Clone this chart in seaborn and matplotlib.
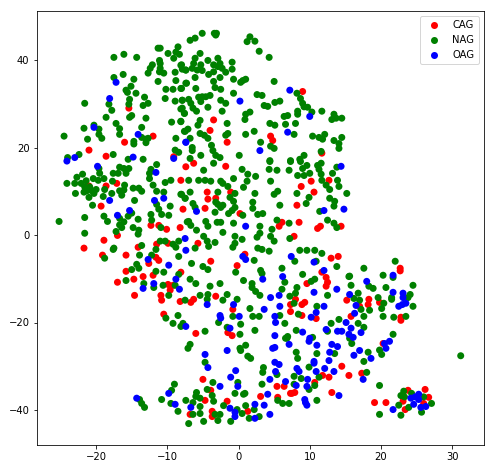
import numpy as np
import pandas as pd
import matplotlib.pyplot as plt
import seaborn as sns

# values
cag_x = [-15.4,-12.0,-16.0,-21.0,-18.6,-9.1,9.0,-3.5,-4.0,4.5,4.8,-1.6,11.7,
         -8.1,-18.6,-17.1,-21.0,-19.3,-7.8,-12.3,-11.2,-10.1,-8.2,-17.0,-18.9,-21.7,-14.1,-11.5,-9.9,
         -19.1,-15.8,-11.6,-11.2,-12.6,-8.1,-15.8,-12.0,-13.4,-14.7,-17.0,-9.9,-9.2,-7.4,
         -6.3,-1.8,10.2,8.8,12.7,-4.4,-1.1,10.6,-4.3,-3.2,8.2,-4.7,0.2,8.5,6.1,5.7,11.5,11.1,14.4,
         7.8,-5.7,0.9,-3.9,-0.2,13.0,14.0,11.7,12.3,12.5,12.3,9.6,
         -14.6,-10.9,-10.8,-8.2,-6.7,-6.3,-3.2,-0.8,-10.5,-6.0,-1.5,-0.9,-5.0,-3.9,-4.7,-1.6,3.1,5.5,
         5.4,6.4,7.3,1.3,-6.8,-3.7,-3.7,7.3,7.3,-9.6,
         22.7,22.7,15.2,18.3,18.2,19.8,17.0,15.8,22.8,22.8,20.3,14.5,15.5,17.3,12.7,11.8,10.7,
         7.5,7.9,13.1,19.1,20.7,26.2,26.7,23.8,23.1,23.4,26.0,8.9,9.3,8.9,10.9,8.0]
cag_y = [29.0,22.6,21.2,19.4,18.0,17.9,32.8,26.3,23.9,22.6,21.6,21.2,18.7,
         12.5,11.2,11.8,11.2,6.6,5.9,2.2,2.2,1.3,1.7,-0.1,-1.2,-3.0,-2.8,-2.1,-1.9,
         -4.6,-4.6,-5.1,-5.8,-6.5,-8.5,-8.3,-9.2,-9.5,-10.1,-10.8,-11.3,-11.5,15.6,
         16.4,15.7,12.3,11.1,12.5,9.8,9.8,9.8,8.2,8.4,6.8,6.1,4.9,2.9,2.9,2.0,2.0,1.5,2.0,
         -0.3,-1.9,-4.4,-6.0,-7.0,-5.3,-4.9,-8.5,-9.7,-10.8,-11.7,-11.1,
         -13.8,-13.8,-14.9,-15.2,-15.4,-14.7,-14.0,-17.0,-18.1,-22.5,-22.3,-23.0,-33.0,-35.5,-37.8,-38.0,-36.9,-37.1,
         -34.6,-34.6,-36.2,-40.3,-41.0,-40.3,-41.5,-15.9,-17.5,-12.6,
         -7.6,-8.2,-14.9,-14.7,-15.9,-15.4,-16.3,-18.6,-18.8,-19.5,-24.8,-30.0,-32.1,-31.6,-32.5,-32.1,-33.7,
         -36.2,-36.0,-36.0,-38.3,-38.3,-35.3,-37.1,-35.5,-38.0,-39.9,-38.5,-15.9,-15.4,-18.4,-19.1,-14.7]

nag_x = [-17.5,-16.1,-14.3,-11.3,-11.0,-8.5,-9.9,-8.8,-8.3,-9.1,-11.1,-11.0,-12.1,-12.4,-12.7,-11.0,-11.1,-10.5,-8.9,-8.1,
         -7.9,-7.4,-11.3,-8.8,-7.4,-10.2,-9.2,-8.1,-17.5,-16.2,-14.7,-15.1,-15.8,-15.6,-14.4,-13.2,-15.3,-15.4,-12.7,-13.4,
         -10.3,-8.9,-7.9,-8.1,-7.6,-21.6,-18.2,-17.8,-18.6,-15.0,-15.3,-13.0,-17.2,-16.7,-16.7,-13.6,-9.4,-8.1,-7.5,-20.3,
         -19.6,-21.7,-19.6,-19.2,-24.5,-21.2,-14.7,-14.7,-13.6,-13.0,-12.7,-13.0,-8.8,-8.9,-8.4,-22.4,-17.6,-24.0,-13.4,-15.5,
         -5.1,-3.4,-3.1,-3.2,-6.8,-6.1,1.6,1.2,2.3,2.9,4.3,-5.4,-6.1,-4.3,-2.9,-2.6,-0.9,-6.3,-5.3,-8.0,
         -7.4,-6.5,-5.8,-5.1,-3.5,-3.5,-2.9,-2.3,-1.8,-0.9,-4.2,-2.6,-6.1,-0.7,0.3,0.6,1.0,5.0,-3.5,-3.3,
         -2.5,-7.3,-6.0,-8.0,-0.7,2.6,3.3,8.2,8.7,9.0,9.2,9.7,10.3,11.7,13.4,13.7,13.1,14.5,-7.9,-7.0,
         -6.7,-6.4,-5.9,-5.6,-5.1,-4.6,-4.0,-5.3,-2.5,-1.8,-4.3,-2.3,3.6,4.1,5.1,5.8,1.6,1.0,0.9,6.9,
         6.4,8.3,8.3,8.0,6.6,4.4,5.1,-8.1,-5.4,-5.7,-1.6,-7.1,-7.6,2.2,1.0,-1.5,-1.8,-5.4,-4.8,-4.3,
         -6.8,7.8,10.4,11.3,11.8,12.1,13.4,14.5,14.1,14.1,3.1,4.5,5.0,-6.5,-6.5,-3.8,-3.6,-5.3,-3.2,-2.6,
         0.1,11.6,9.2,8.6,7.3,4.4,-6.8,-7.9,-7.6,
         -19.6,-19.5,-16.7,-16.1,-15.4,-15.8,-17.6,-16.9,-12.3,-11.5,-12.5,-12.5,-22.7,-21.9,-9.5,-10.3,-24.1,-23.0,-22.1,-21.4,
         -20.4,-19.7,-18.9,-17.7,-12.0,-16.0,-16.7,-16.1,-14.8,-14.0,-13.6,-21.6,-20.9,-21.3,-20.6,-20.0,-18.8,-22.9,-21.7,-20.3,
         -21.0,-19.0,-17.8,-16.4,-11.5,-10.5,-8.1,-7.5,-14.6,-11.5,-11.2,-10.8,-9.6,-9.8,-12.3,-12.2,-20.5,-21.6,-18.9,-18.4,
         -14.1,-15.5,-15.0,-16.7,-16.1,-16.7,-17.2,-16.4,-10.9,-14.8,-14.0,-14.1,-21.6,-7.2,-11.0,-10.3,-8.4,-9.2,-8.8,-13.6,
         -11.6,-17.6,-17.5,-18.8,-13.9,-12.2,-8.4,-14.3,-15.0,-14.0,-11.6,-10.5,-8.4,-15.8,-13.3,-11.9,-10.6,-8.9,-25.2,
         -3.5,-4.9,0.5,4.3,5.4,7.1,4.4,7.3,8.7,9.6,9.0,8.3,9.2,10.0,11.1,11.6,11.3,11.6,13.2,13.8,
         1.3,2.4,-7.0,-5.6,-4.7,-3.9,-2.5,-2.2,-1.5,-0.7,1.2,0.7,4.5,11.7,12.3,12.8,13.9,14.1,15.2,8.2,
         -0.5,-2.9,-6.8,-8.0,-7.5,-6.4,-6.1,-3.2,-2.9,-2.2,-2.5,-1.2,-0.7,-0.5,-0.9,-1.4,-3.3,2.3,5.0,5.5,
         2.0,2.0,5.8,9.9,9.5,12.8,13.5,13.4,11.4,0.6,2.7,3.4,-7.0,-6.7,-4.6,-4.3,-3.0,-2.5,-0.7,-5.9,
         -2.2,3.0,3.0,2.6,-0.5,0.5,4.7,4.5,5.0,5.4,7.1,7.2,12.5,13.4,13.8,-4.9,-4.4,-4.2,-3.3,-6.1,
         -0.5,-0.8,2.7,3.3,4.3,8.6,9.6,10.7,11.7,7.9,10.9,2.2,13.8,-6.6,-5.0,-4.3,6.1,-0.4,3.1,3.3,
         9.0,10.7,10.2,-6.8,-6.0,-4.0,-2.6,0.7,1.9,1.9,6.1,8.2,15.5,6.5,
         -9.8,-7.5,-5.4,-4.3,-4.4,-2.2,-1.6,-0.2,2.4,3.0,1.6,2.0,2.9,-0.8,-8.5,-10.2,-9.2,-7.8,-8.1,-2.8,
         0.3,-1.6,-4.7,0.2,2.3,-6.8,-7.1,0.2,0.3,1.0,1.3,1.7,-4.7,3.5,3.4,-0.1,-3.6,-9.0,-9.4,-5.9,
         -6.0,-5.4,-4.4,-3.7,-3.5,-0.5,0.9,0.7,3.3,-10.8,-13.9,-13.6,-13.2,-9.5,-7.4,-6.4,-5.4,-6.4,-5.4,-8.5,
         -2.1,-3.3,-2.6,-2.9,-7.0,-4.9,-1.1,-0.2,0.5,1.0,2.2,1.5,2.9,5.5,6.2,7.1,6.5,5.8,6.8,5.4,7.2,
         22.0,17.6,20.3,21.7,15.6,15.8,18.3,18.9,20.7,24.5,16.8,16.2,17.0,19.6,20.4,20.1,21.5,21.5,24.1,23.8,
         17.2,18.4,17.6,20.3,21.8,23.5,24.5,14.1,13.0,16.8,17.6,12.5,21.7,15.6,15.9,19.8,20.1,18.2,17.6,18.0,
         13.5,11.0,8.1,8.3,8.1,6.9,6.6,10.4,9.9,11.3,8.8,7.8,7.8,10.7,9.9,19.8,11.0,19.8,22.8,25.7,
         27.1,22.5,23.9,23.2,22.8,23.3,24.3,26.0,8.4,11.0,7.8,12.5,8.0,31.2]
nag_y = [40.6,41.3,40.6,42.7,42.7,43.0,41.5,41.8,41.3,40.4,39.9,39.2,38.9,38.1,37.0,38.1,37.3,37.0,37.2,38.8,
         37.9,37.7,35.1,35.3,34.7,33.3,33.3,33.5,36.0,36.7,35.6,34.0,33.1,32.6,32.4,31.5,31.0,29.9,30.1,29.6,
         31.2,30.6,30.8,28.8,27.8,30.1,29.9,28.5,26.9,27.3,26.9,26.7,25.5,24.3,23.0,24.6,25.8,26.0,23.7,25.1,
         24.2,24.4,23.0,22.1,22.6,21.9,21.4,20.8,22.3,21.9,22.1,21.1,22.1,19.4,18.9,18.4,18.4,17.7,17.3,17.3,
         46.1,46.1,46.1,45.7,44.5,45.0,45.3,44.2,44.3,42.0,40.6,41.5,40.4,39.9,40.4,39.2,39.5,39.2,38.9,38.9,
         37.7,38.1,37.7,37.6,38.9,37.3,38.5,38.1,37.2,37.9,36.7,36.0,36.0,35.6,34.9,35.3,35.6,35.1,35.1,33.7,
         33.3,34.7,33.5,33.5,32.4,32.1,31.9,32.4,31.2,30.1,29.3,29.2,28.1,28.3,27.6,26.7,26.4,26.7,30.8,31.0,
         30.1,29.0,28.3,31.5,31.6,31.6,31.9,30.5,30.8,30.1,29.2,28.3,29.6,29.4,30.3,30.6,28.1,27.6,26.4,27.3,
         27.1,28.3,27.6,25.5,25.3,25.5,25.1,25.9,26.2,25.1,25.5,24.2,23.7,23.7,23.0,23.2,22.8,23.2,22.8,22.1,
         22.1,23.0,22.6,22.3,21.9,23.0,21.6,22.3,20.9,19.8,21.2,20.3,19.8,20.0,19.3,20.5,19.3,18.2,18.2,17.7,
         18.2,19.1,18.2,17.3,17.0,17.0,17.5,29.0,27.8,
         15.2,14.1,15.5,15.2,15.2,14.1,14.1,14.1,15.0,16.1,14.1,12.9,13.2,13.9,12.5,12.0,11.8,11.8,11.8,12.4,
         12.9,12.5,12.9,12.3,11.4,11.4,10.1,10.3,10.7,10.7,10.0,11.0,11.0,10.1,10.1,10.4,10.4,9.5,9.8,9.5,
         8.6,8.8,9.5,9.1,10.0,9.8,9.3,8.4,7.9,7.0,5.9,4.7,6.6,4.5,4.7,3.4,6.8,4.0,4.3,3.1,
         3.6,4.3,5.0,3.8,3.0,2.3,0.8,1.7,1.7,1.7,1.1,0.2,0.4,3.0,-1.4,-1.4,-1.4,-2.1,-2.8,-2.4,
         -3.3,-3.3,-3.0,-5.3,-4.6,-4.6,-4.9,-6.7,-7.9,-7.6,-8.3,-8.5,-9.0,-10.4,-11.1,-12.0,-11.5,-11.5,3.1,
         16.4,14.8,15.0,15.0,14.8,14.8,16.8,16.8,16.8,15.9,15.2,13.6,13.6,14.1,15.9,16.4,15.0,13.9,14.1,15.5,
         13.9,13.4,12.5,12.5,12.5,12.3,12.3,11.8,11.1,12.9,12.3,10.9,12.3,12.5,11.4,10.4,12.5,11.1,9.5,9.5,
         9.5,9.8,9.8,9.3,8.4,7.2,6.3,7.5,7.0,6.8,6.3,8.6,7.7,6.3,5.6,4.9,5.2,9.5,9.3,10.0,
         7.5,6.1,6.8,8.6,7.2,8.4,7.7,6.6,5.4,4.5,4.7,4.9,3.1,2.2,3.1,2.0,2.9,2.9,2.7,1.1,
         0.6,2.0,0.4,-0.5,-0.3,-1.0,1.3,-0.3,-1.4,3.4,2.7,-0.8,3.4,2.7,1.7,-0.3,-1.4,-2.6,-1.7,-3.0,
         -1.9,-2.8,-3.0,-3.3,-3.7,-3.5,-3.5,-3.5,-4.2,-6.0,-6.0,-5.8,-7.2,-6.5,-7.2,-7.9,-7.6,-8.5,-8.1,-8.8,
         -9.0,-10.1,-10.6,-10.1,-11.1,-11.7,-11.1,-10.4,-11.1,-12.0,-12.4,-12.0,-9.5,-10.8,
         -13.8,-14.9,-13.8,-13.6,-14.7,-14.9,-13.6,-14.7,-12.9,-13.8,-16.8,-18.6,-18.6,-18.6,-18.4,-19.0,-20.2,-20.2,-20.9,-20.0,
         -20.4,-21.1,-22.0,-22.7,-21.8,-25.0,-25.9,-25.9,-26.4,-25.2,-27.7,-28.2,-29.1,-30.3,-31.4,-33.7,-33.7,-34.1,-35.5,-36.0,
         -36.9,-37.3,-35.3,-36.7,-38.0,-36.2,-36.2,-36.4,-34.1,-37.6,-37.6,-38.5,-39.4,-38.5,-37.8,-38.3,-39.2,-41.0,-40.8,-40.3,
         -39.0,-41.0,-41.0,-42.4,-43.1,-42.6,-42.6,-39.9,-40.8,-39.0,-39.9,-41.9,-41.5,-37.8,-38.5,-38.5,-20.2,-18.4,-23.6,-31.9,-14.0,
         -6.0,-7.6,-9.2,-9.7,-9.4,-11.5,-11.7,-12.2,-12.0,-11.5,-13.3,-14.5,-14.9,-14.3,-15.6,-16.8,-14.3,-14.7,-13.6,-14.3,
         -17.0,-17.2,-18.6,-18.6,-18.8,-18.6,-16.3,-19.3,-20.2,-20.2,-21.1,-22.0,-22.7,-23.6,-24.8,-26.3,-27.3,-26.8,-28.9,-31.4,
         -27.1,-27.1,-26.8,-28.2,-21.8,-23.2,-23.6,-23.4,-30.2,-32.5,-32.8,-32.3,-34.1,-34.4,-35.3,-34.4,-37.8,-41.0,-41.2,-40.5,
         -38.5,-38.9,-39.4,-35.7,-36.7,-37.0,-36.2,-37.0,-18.1,-16.3,-15.6,-13.8,-13.3,-27.6]

oag_x = [-17.2,-18.1,-20.3,-14.1,-7.4,-14.8,-23.0,-9.1,-24.1,7.2,0.2,10.0,6.9,-7.4,3.0,
         -19.8,-11.6,-18.1,-10.5,-11.8,-17.0,-15.3,-7.5,-7.4,-12.7,-9.8,-8.8,-11.9,-13.4,-8.3,
         14.4,12.0,14.8,-5.9,1.0,0.6,1.0,7.4,10.6,12.0,3.4,6.2,13.8,
         4.5,5.7,-0.7,-4.4,3.6,5.8,-2.6,-2.5,0.1,5.1,5.2,-7.4,-1.2,5.1,7.1,5.1,4.8,-1.6,-4.7,5.1,5.7,
         -4.3,-0.4,5.2,-1.1,4.4,6.6,-2.6,-0.1,-9.8,4.1,-14.3,-8.9,-6.7,2.3,3.6,-1.2,-0.5,-0.5,4.4,2.3,
         23.1,23.1,21.7,23.5,23.0,22.5,18.0,21.7,15.6,16.5,16.3,15.1,15.8,13.9,14.5,12.3,17.2,15.5,16.1,
         21.2,20.5,20.7,17.0,18.6,16.2,13.9,13.1,12.8,12.7,11.0,10.0,9.9,9.0,10.6,10.6,10.9,12.1,13.4,
         8.2,8.5,9.7,8.1,9.6,14.1,9.3,9.4,9.6,17.5,21.7,24.2,24.8,25.3,25.3,24.6,25.6,26.3,10.6,12.0,10.9,10.2]
oag_y = [34.9,31.2,24.6,23.0,21.2,17.8,17.7,17.5,16.9,33.1,30.6,27.1,23.5,21.2,19.3,
         15.7,14.3,7.9,8.4,7.9,4.5,5.6,-0.8,-3.5,-5.6,-6.9,-10.1,-11.1,-12.2,-12.4,
         15.7,5.6,5.9,5.4,2.0,-4.9,-5.6,-4.9,-6.2,-8.1,-10.1,-9.5,-12.4,
         -14.3,-13.8,-15.9,-15.9,-17.0,-16.3,-18.4,-19.0,-18.6,-18.6,-20.0,-20.9,-21.3,-23.0,-25.0,-25.7,-25.9,-26.4,-27.3,-29.1,-29.6,
         -30.3,-31.0,-31.2,-32.5,-33.0,-33.5,-34.6,-34.6,-36.2,-36.4,-37.3,-38.7,-39.4,-38.7,-38.9,-39.6,-40.5,-41.5,-41.0,-41.9,
         -13.3,-14.3,-13.1,-15.6,-15.9,-16.3,-10.6,-9.2,-13.6,-16.1,-17.9,-20.0,-21.3,-22.0,-22.0,-21.6,-22.3,-22.7,-23.4,
         -24.3,-24.8,-25.9,-26.4,-28.2,-27.5,-25.5,-25.0,-26.8,-28.7,-25.2,-23.6,-24.3,-22.2,-28.9,-29.3,-31.2,-30.5,-31.2,
         -30.5,-31.2,-33.0,-34.4,-34.6,-36.7,-37.6,-38.3,-38.9,-33.0,-39.9,-37.3,-37.0,-36.4,-37.6,-38.7,-39.4,-39.2,-13.1,-16.3,-17.7,-18.8]

groups = ["CAG", "NAG", "OAG"]
colors = ["red", "green", "blue"]

df = pd.DataFrame({
    "x": np.concatenate([cag_x, nag_x, oag_x]),
    "y": np.concatenate([cag_y, nag_y, oag_y]),
    "group": ["CAG"] * len(cag_x) + ["NAG"] * len(nag_x) + ["OAG"] * len(oag_x),
})

fig = plt.figure(figsize=(492 / 72, 469 / 72), dpi=72)
ax = fig.add_axes([36.5 / 492, 1 - 445 / 469, 447 / 492, 434 / 469])

sns.scatterplot(data=df, x="x", y="y", hue="group", hue_order=groups,
                palette=dict(zip(groups, colors)), s=49, linewidth=0, ax=ax)

ax.set_xlim(-28.37, 34.4)
ax.set_ylim(-48.0, 51.2)
ax.set_xticks([-20, -10, 0, 10, 20, 30])
ax.set_yticks([-40, -20, 0, 20, 40])
ax.set_xlabel("")
ax.set_ylabel("")

handles, labels = ax.get_legend_handles_labels()
for h in handles:
    h.set_markersize(7)
ax.legend(handles, labels, loc="upper right")

fig.savefig("out.png", dpi=72)
